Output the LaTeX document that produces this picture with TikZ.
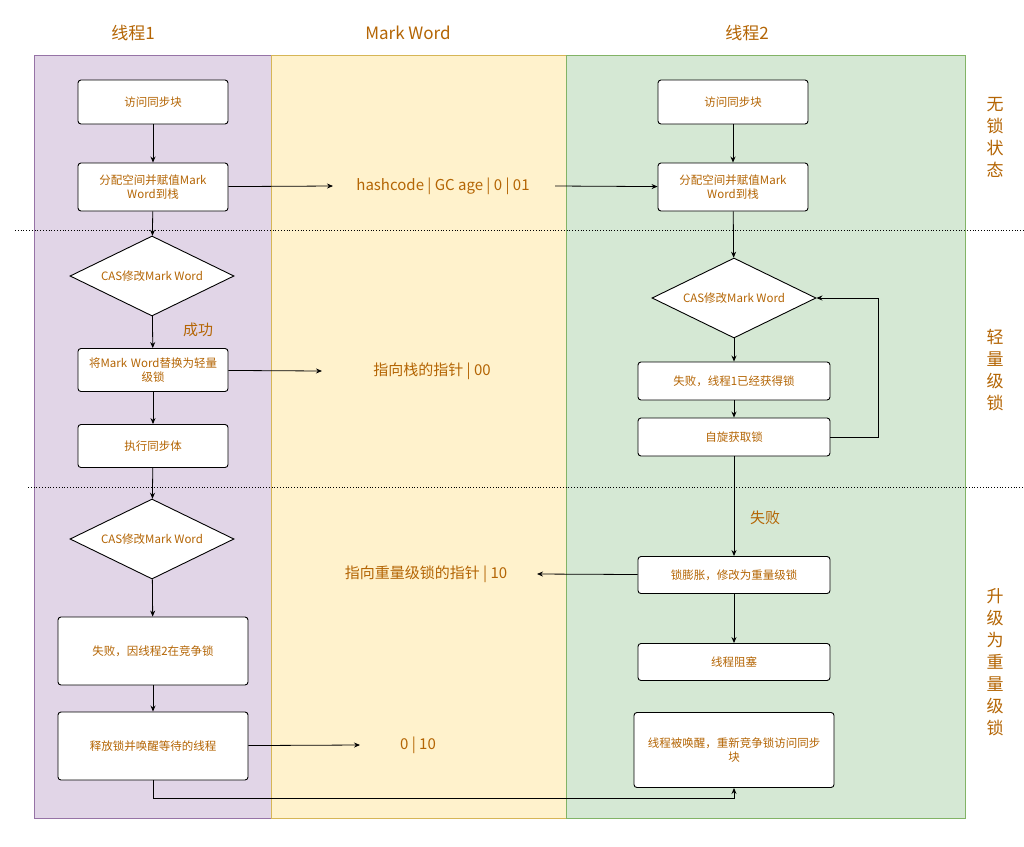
\documentclass[tikz,border=0pt]{standalone}
\usepackage{fontspec}
\setmainfont{Noto Sans CJK SC}
\usetikzlibrary{shapes.geometric,arrows.meta}
\definecolor{txt}{HTML}{B46504}
\definecolor{pf}{HTML}{E1D5E7}\definecolor{ps}{HTML}{9673A6}
\definecolor{yf}{HTML}{FFF2CC}\definecolor{ys}{HTML}{D6B656}
\definecolor{gf}{HTML}{D5E8D4}\definecolor{gs}{HTML}{82B366}
\begin{document}
\begin{tikzpicture}[x=1pt,y=-1pt,
 box/.style={draw,fill=white,rounded corners=3pt,line width=0.9pt,text=txt,font=\fontsize{11.5}{13.5}\selectfont,align=center,inner sep=1pt},
 dia/.style={draw,fill=white,diamond,aspect=2.05,line width=0.9pt,text=txt,font=\fontsize{11.5}{13.5}\selectfont,inner sep=0pt,minimum width=164pt,minimum height=80pt},
 arr/.style={-{Stealth[length=6pt,width=5pt]},line width=0.8pt},
 lab/.style={text=txt,font=\fontsize{15}{18}\selectfont},
 hd/.style={text=txt,font=\fontsize{17}{20}\selectfont},
 side/.style={text=txt,font=\fontsize{17}{22}\selectfont,align=center}]
\useasboundingbox (0,0) rectangle (1024,846);
\fill[white] (0,0) rectangle (1024,846);
\draw[fill=pf,draw=ps] (34,55) rectangle (271,818);
\draw[fill=yf,draw=ys] (271,55) rectangle (566,818);
\draw[fill=gf,draw=gs] (566,55) rectangle (965,818);
\node[hd] (h1) at (133,33) {线程1};
\node[hd] (h2) at (408,33) {Mark Word};
\node[hd] (h3) at (747,33) {线程2};
\node[side] (s1) at (995,137) {无\\锁\\状\\态};
\node[side] (s2) at (995,370) {轻\\量\\级\\锁};
\node[side] (s3) at (995,662) {升\\级\\为\\重\\量\\级\\锁};
\draw[dotted,line width=0.8pt] (15,230) -- (1024,230);
\draw[dotted,line width=0.8pt] (28,487) -- (1024,487);
% thread 1
\node[box,minimum width=150pt,minimum height=44pt] (a1) at (153,102) {访问同步块};
\node[box,minimum width=150pt,minimum height=48pt,text width=140pt] (a2) at (153,187) {分配空间并赋值Mark Word到栈};
\node[dia] (d1) at (152,276) {CAS修改Mark Word};
\node[lab] (ok) at (198,330) {成功};
\node[box,minimum width=150pt,minimum height=43pt,text width=146pt] (a3) at (153,370) {将Mark Word替换为轻量\\级锁};
\node[box,minimum width=150pt,minimum height=43pt] (a4) at (153,446) {执行同步体};
\node[dia] (d2) at (152,539) {CAS修改Mark Word};
\node[box,minimum width=190pt,minimum height=68pt] (a5) at (153,651) {失败，因线程2在竞争锁};
\node[box,minimum width=190pt,minimum height=68pt] (a6) at (153,746) {释放锁并唤醒等待的线程};
% mark word
\node[lab] (m1) at (443,186) {hashcode | GC age | 0 | 01};
\node[lab] (m2) at (432,371) {指向栈的指针 | 00};
\node[lab] (m3) at (426,574) {指向重量级锁的指针 | 10};
\node[lab] (m4) at (418,745) {0 | 10};
\coordinate (e1) at (333,186);\coordinate (e2) at (322,371);
\coordinate (e3) at (537,574);\coordinate (e4) at (360,745);\coordinate (f1) at (555,186);
% thread 2
\node[box,minimum width=150pt,minimum height=44pt] (b1) at (733,102) {访问同步块};
\node[box,minimum width=150pt,minimum height=48pt,text width=140pt] (b2) at (733,187) {分配空间并赋值Mark Word到栈};
\node[dia] (d3) at (734,298) {CAS修改Mark Word};
\node[box,minimum width=192pt,minimum height=38pt] (b3) at (734,381) {失败，线程1已经获得锁};
\node[box,minimum width=192pt,minimum height=38pt] (b4) at (734,437) {自旋获取锁};
\node[lab] (fail) at (765,518) {失败};
\node[box,minimum width=192pt,minimum height=37pt] (b5) at (734,575) {锁膨胀，修改为重量级锁};
\node[box,minimum width=192pt,minimum height=37pt] (b6) at (734,662) {线程阻塞};
\node[box,minimum width=200pt,minimum height=75pt,text width=198pt] (b7) at (734,750) {线程被唤醒，重新竞争锁访问同步\\块};
% arrows
\draw[arr] (a1) -- (a2);
\draw[arr] (a2) -- (d1);
\draw[arr] (d1) -- (a3);
\draw[arr] (a3) -- (a4);
\draw[arr] (a4) -- (d2);
\draw[arr] (d2) -- (a5);
\draw[arr] (a5) -- (a6);
\draw[arr] (a2) -- (e1);
\draw[arr] (a3) -- (e2);
\draw[arr] (a6) -- (e4);
\draw[arr] (f1) -- (b2);
\draw[arr] (b5) -- (e3);
\draw[arr] (b1) -- (b2);
\draw[arr] (b2) -- (d3);
\draw[arr] (d3) -- (b3);
\draw[arr] (b3) -- (b4);
\draw[arr] (b4.east) -- (878,437) |- (d3.east);
\draw[arr] (b4) -- (b5);
\draw[arr] (b5) -- (b6);
\draw[arr] (a6.south) -- (153,798) -| (b7.south);
\end{tikzpicture}
\end{document}
